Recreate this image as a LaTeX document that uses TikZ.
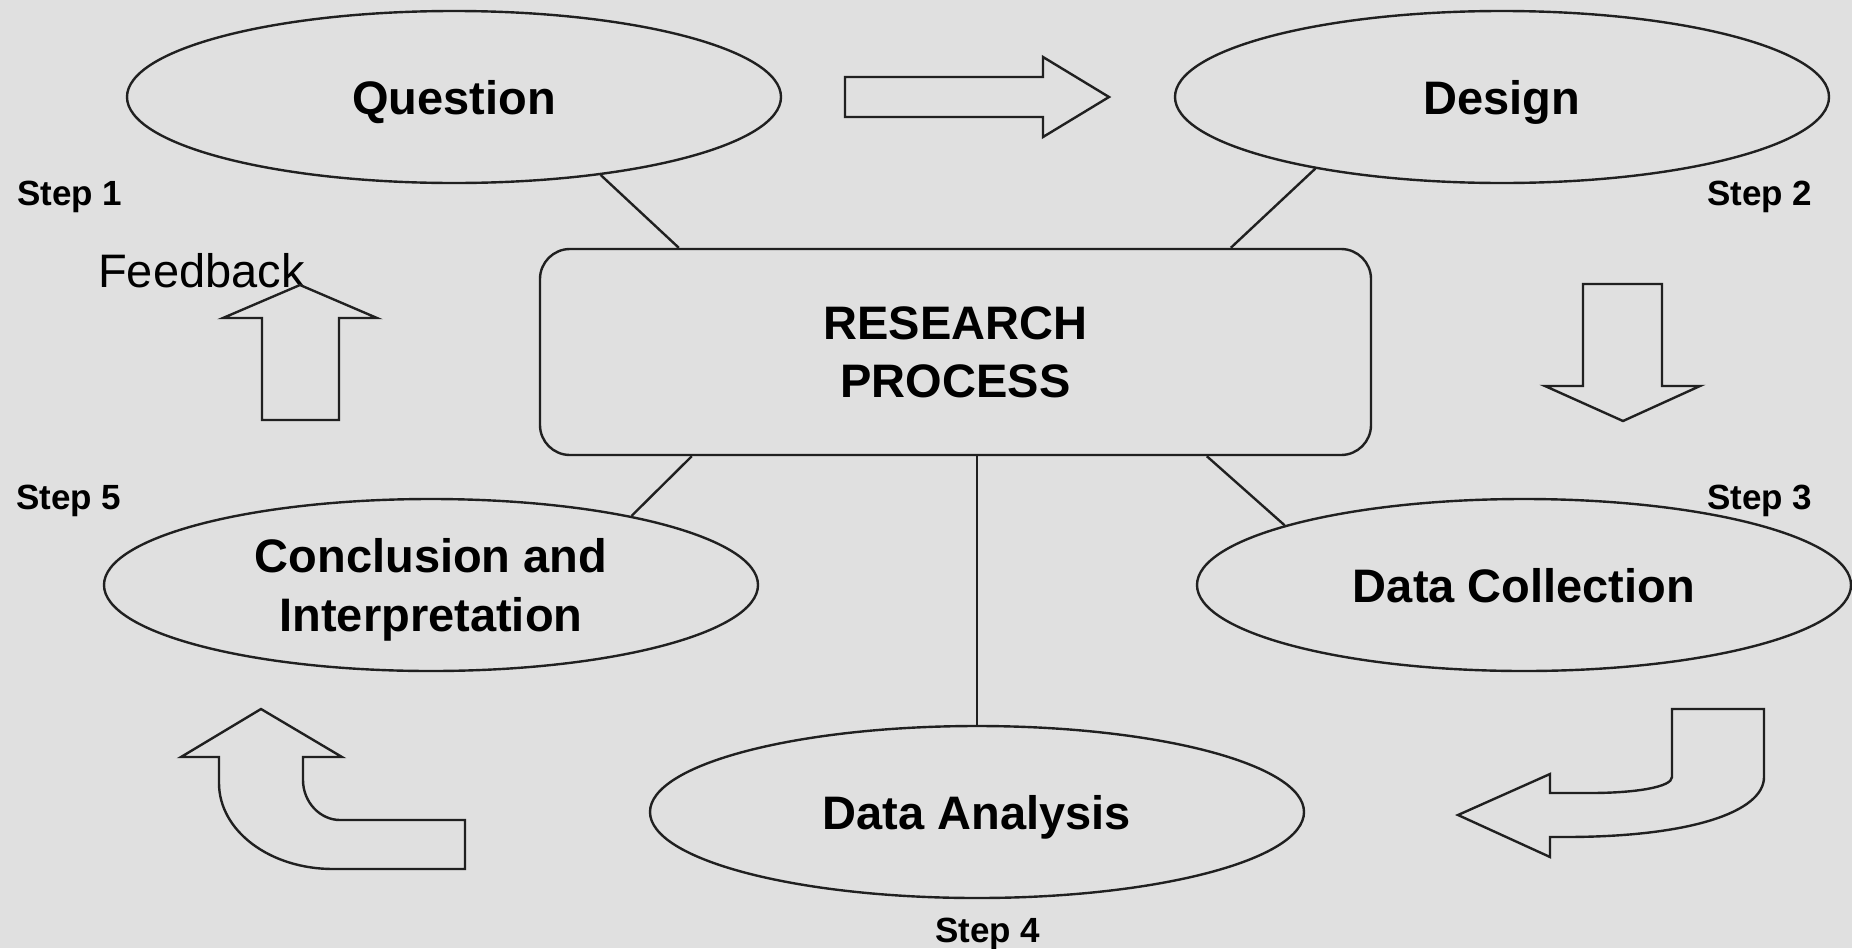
\documentclass[tikz,border=0pt]{standalone}
\usepackage{fontspec}
\setmainfont{Liberation Sans}
\usetikzlibrary{shapes.geometric,calc}
\definecolor{bg}{RGB}{224,224,224}
\definecolor{ink}{RGB}{32,32,32}
\tikzset{
  stage/.style={ellipse,draw=ink,line width=2.4pt,fill=bg,minimum width=654pt,minimum height=172pt,inner sep=0pt,
    font=\fontsize{47}{59}\selectfont\bfseries,align=center,text=black,text depth=0pt},
  hub/.style={rectangle,rounded corners=30pt,draw=ink,line width=2.4pt,fill=bg,minimum width=831pt,minimum height=206pt,
    inner sep=0pt,font=\fontsize{47}{58}\selectfont\bfseries,align=center,text=black,text depth=0pt},
  steplabel/.style={inner sep=0pt,font=\fontsize{35}{40}\selectfont\bfseries,text=black},
  link/.style={draw=ink,line width=2.4pt},
  blockarrow/.style={draw=ink,line width=2.4pt,fill=bg,line join=miter}
}
\begin{document}
\begin{tikzpicture}[x=1pt,y=-1pt]
  \fill[bg] (0,0) rectangle (1852,948);
  \useasboundingbox (0,0) rectangle (1852,948);

  % central box and the five stages
  \node[hub] (hub) at (955.5,352) {RESEARCH\\PROCESS};
  \node[stage] (q)  at (454,97)   {Question};
  \node[stage] (d)  at (1502,97)  {Design};
  \node[stage] (dc) at (1524,585) {Data Collection};
  \node[stage] (da) at (977,812)  {Data Analysis};
  \node[stage] (ci) at (431,585)  {Conclusion and\\Interpretation};

  % spokes from the stages to the box
  \draw[link] (q.-28)  -- ($(hub.north west)+(140,0)$);
  \draw[link] (d.201)  -- ($(hub.north west)+(692,0)$);
  \draw[link] (ci.19)  -- ($(hub.south west)+(153,0)$);
  \draw[link] (dc.166) -- ($(hub.south west)+(668,0)$);
  \draw[link] (da.north) -- (da.north |- hub.south);

  % step labels
  \node[steplabel,anchor=base west] (s1) at (17,205)   {Step 1};
  \node[steplabel,anchor=base west] (s2) at (1707,205) {Step 2};
  \node[steplabel,anchor=base west] (s3) at (1707,509) {Step 3};
  \node[steplabel,anchor=base west] (s4) at (935,942)  {Step 4};
  \node[steplabel,anchor=base west] (s5) at (16,509)   {Step 5};
  \node[inner sep=0pt,anchor=base west,font=\fontsize{47}{52}\selectfont,text=black] (fb) at (98,287) {Feedback};

  % right arrow: Question -> Design
  \draw[blockarrow] (845,77) -- (1043,77) -- (1043,57) -- (1109,97) -- (1043,137)
    -- (1043,117) -- (845,117) -- cycle;

  % down arrow: Design -> Data Collection
  \draw[blockarrow] (1583,284) -- (1662,284) -- (1662,386) -- (1700,386) -- (1623,421)
    -- (1545,386) -- (1583,386) -- cycle;

  % up arrow: Step 5 -> Step 1 (feedback)
  \draw[blockarrow] (262,420) -- (262,318) -- (223,318) -- (300,285) -- (377,318)
    -- (339,318) -- (339,420) -- cycle;

  % bent arrow: Data Collection -> Data Analysis
  \draw[blockarrow] (1672,709) -- (1764,709) -- (1764,777)
    .. controls (1764,812) and (1690,837) .. (1565,837)
    -- (1550,837) -- (1550,857) -- (1458,815) -- (1550,774) -- (1550,793) -- (1590,793)
    .. controls (1636,793) and (1672,787) .. (1672,777) -- cycle;

  % bent arrow: Data Analysis -> Conclusion
  \draw[blockarrow] (465,869) -- (333,869)
    .. controls (270,869) and (219,831) .. (219,783)
    -- (219,757) -- (181,757) -- (261,709) -- (342,757) -- (303,757) -- (303,780)
    .. controls (303,802) and (320,820) .. (340,820)
    -- (465,820) -- cycle;
\end{tikzpicture}
\end{document}
